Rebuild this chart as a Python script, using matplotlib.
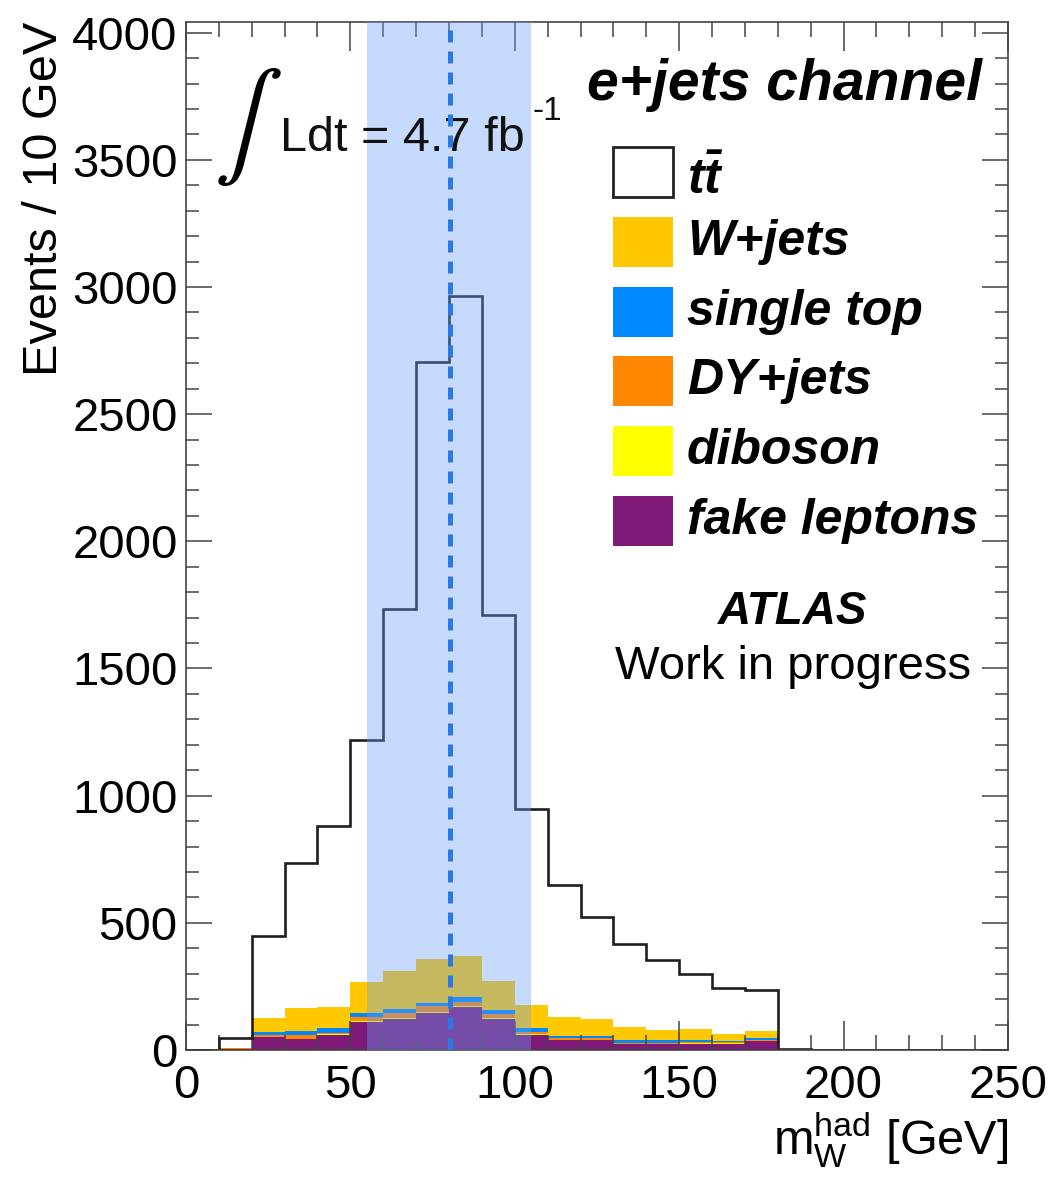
import matplotlib
matplotlib.use('Agg')
import matplotlib.pyplot as plt
from matplotlib.patches import Rectangle
from matplotlib.ticker import MultipleLocator
import numpy as np

plt.rcParams['font.family'] = ['Liberation Sans', 'DejaVu Sans']
plt.rcParams['mathtext.fontset'] = 'custom'
plt.rcParams['mathtext.rm'] = 'Liberation Sans'
plt.rcParams['mathtext.it'] = 'Liberation Sans:italic'
plt.rcParams['mathtext.bf'] = 'Liberation Sans:bold'
plt.rcParams['mathtext.bfit'] = 'Liberation Sans:italic:bold'

# bin edges, 10 GeV bins from 0 to 250
edges = np.arange(0, 260, 10)

# event counts per bin
fake_leptons = [0, 3, 50, 43, 59, 111, 121, 144, 168, 122, 59, 39, 39, 22, 22, 25, 25, 35, 0, 0, 0, 0, 0, 0, 0]
diboson      = [0, 0, 2, 2, 2, 3, 3, 4, 4, 3, 2, 2, 2, 2, 1, 1, 1, 1, 0, 0, 0, 0, 0, 0, 0]
dy_jets      = [0, 3, 7, 14, 7, 16, 21, 25, 18, 17, 9, 6, 8, 5, 5, 5, 4, 4, 0, 0, 0, 0, 0, 0, 0]
single_top   = [0, 0, 13, 17, 20, 14, 15, 13, 20, 15, 15, 8, 7, 10, 10, 9, 5, 6, 0, 0, 0, 0, 0, 0, 0]
w_jets       = [0, 2, 53, 88, 82, 125, 152, 171, 160, 114, 92, 76, 66, 53, 42, 42, 29, 27, 0, 0, 0, 0, 0, 0, 0]
ttbar        = [0, 38, 325, 570, 712, 951, 1423, 2350, 2596, 1439, 769, 519, 400, 323, 273, 217, 178, 161, 5, 0, 0, 0, 0, 0, 0]

labels = ['W+jets', 'single top', 'DY+jets', 'diboson', 'fake leptons']
colors = {'W+jets': '#ffc800', 'single top': '#0088ff', 'DY+jets': '#ff8800',
          'diboson': '#ffff00', 'fake leptons': '#7f1a78'}

fig = plt.figure(figsize=(10.56, 11.84), dpi=100)
ax = fig.add_axes([0.1761, 0.1132, 0.7784, 0.8682])

# stacked backgrounds, bottom first
stack = [(fake_leptons, 'fake leptons'), (diboson, 'diboson'), (dy_jets, 'DY+jets'),
         (single_top, 'single top'), (w_jets, 'W+jets')]
bottom = np.zeros(len(edges) - 1)
for vals, name in stack:
    top = bottom + np.array(vals)
    ax.stairs(top, edges, baseline=bottom.copy(), fill=True, color=colors[name], lw=0, zorder=1)
    bottom = top
ax.plot([0, 250], [0, 0], color=colors['fake leptons'], lw=2, zorder=1.2)

total = bottom + np.array(ttbar)
ax.stairs(total, edges, baseline=bottom.copy(), fill=True, color='white', lw=0, zorder=1)
ax.stairs(total, edges, baseline=0, color='#1e1e1e', lw=1.9, zorder=2)

# W mass window and nominal mass
ax.axvspan(55, 105, color=(104/255, 159/255, 250/255), alpha=0.38, lw=0, zorder=3)
ax.axvline(80.4, color='#2a78e4', lw=3.6, dashes=(2.4, 1.8), zorder=4)

ax.set_xlim(0, 250)
ax.set_ylim(0, 4042)
ax.xaxis.set_major_locator(MultipleLocator(50))
ax.xaxis.set_minor_locator(MultipleLocator(10))
ax.yaxis.set_major_locator(MultipleLocator(500))
ax.yaxis.set_minor_locator(MultipleLocator(100))
ax.tick_params(which='both', direction='in', top=True, right=True, labelsize=34, width=1.1, color='#444444')
ax.tick_params(axis='x', which='major', length=21, pad=10)
ax.tick_params(axis='x', which='minor', length=10.5)
ax.tick_params(axis='y', which='major', length=19, pad=6)
ax.tick_params(axis='y', which='minor', length=9.5)
for s in ax.spines.values():
    s.set_linewidth(1.2)
    s.set_color('#444444')

ax.set_xlabel(r'$\mathregular{m_{W}^{had}}$ [GeV]', fontsize=35, loc='right', labelpad=2)
ax.set_ylabel('Events / 10 GeV', fontsize=35, loc='top', labelpad=4)

# annotations
ax.text(0.075, 0.898, r'$\int$', transform=ax.transAxes, fontsize=74, math_fontfamily='stix',
        ha='center', va='center')
ax.text(0.1144, 0.875, 'Ldt = 4.7 fb', transform=ax.transAxes,
        fontsize=35, ha='left', va='baseline', color='#111111')
ax.text(0.4215, 0.913, '-1', transform=ax.transAxes,
        fontsize=24, ha='left', va='center', color='#111111')
ax.text(0.968, 0.924, 'e+jets channel', transform=ax.transAxes, fontsize=41,
        fontweight='bold', fontstyle='italic', ha='right', va='baseline')

# legend drawn by hand in ROOT style
legend_items = [r'$\mathbfit{t\bar{t}}$'] + labels
legend_colors = ['white'] + [colors[l] for l in labels]
for i, (lab, col) in enumerate(zip(legend_items, legend_colors)):
    yc = (1050 - (172 + 69.8 * i)) / 1028
    ax.add_patch(Rectangle((0.5195, yc - 0.0243), 0.073, 0.0486, transform=ax.transAxes,
                           facecolor=col, edgecolor='#222222' if i == 0 else col,
                           lw=2 if i == 0 else 0, zorder=5))
    ax.text(0.6095, yc - (0.008 if i == 0 else 0), lab, transform=ax.transAxes, fontsize=36,
            fontweight='bold', fontstyle='italic', ha='left', va='center', zorder=5)

ax.text(0.738, 0.426, 'ATLAS', transform=ax.transAxes, fontsize=33, fontweight='bold',
        fontstyle='italic', ha='center', va='center')
ax.text(0.738, 0.3726, 'Work in progress', transform=ax.transAxes, fontsize=34,
        ha='center', va='center')

fig.savefig('out.png', dpi=100)
